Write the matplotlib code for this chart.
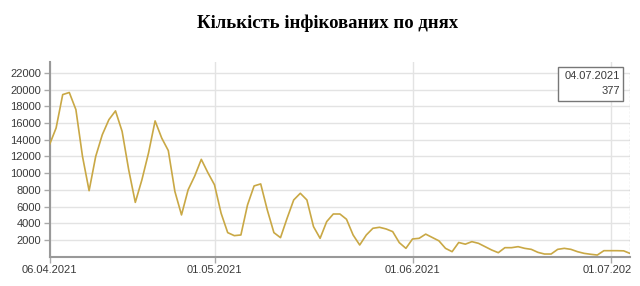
import matplotlib
matplotlib.use("Agg")
import matplotlib.pyplot as plt
from matplotlib.transforms import Bbox, TransformedBbox
import datetime as dt

# ---- data -------------------------------------------------------------
title = "Кількість інфікованих по днях"
start = dt.date(2021, 4, 6)
end = dt.date(2021, 7, 4)
missing = [dt.date(2021, 5, 20)]  # a day with no point on the chart
dates = []
d = start
while d <= end:
    if d not in missing:
        dates.append(d)
    d += dt.timedelta(days=1)

values_apr = [13400, 15400, 19400, 19650, 17600, 12000, 7900, 12000, 14600,
              16400, 17450, 15000, 10400, 6500, 9200, 12400, 16250, 14200,
              12700, 7800, 5000, 8000, 9650, 11650, 10050]
values_may = [8600, 5200, 2880, 2520, 2600, 6190, 8470, 8710, 5590, 2880,
              2280, 4600, 6790, 7590, 6790, 3600, 2200, 4200, 5110, 5110,
              4480, 2600, 1400, 2600, 3400, 3520, 3320, 3000, 1680, 1000]
values_jun = [2120, 2200, 2700, 2300, 1900, 1000, 600, 1700, 1500, 1800,
              1600, 1200, 800, 480, 1080, 1080, 1200, 1000, 880, 520, 320,
              320, 880, 1000, 880, 600, 400, 290, 200, 720]
values_jul = [720, 720, 700, 377]
values = values_apr + values_may + values_jun + values_jul

tick_dates = [dt.date(2021, 4, 6), dt.date(2021, 5, 1),
              dt.date(2021, 6, 1), dt.date(2021, 7, 1)]
y_ticks = list(range(2000, 22001, 2000))

# ---- plot -------------------------------------------------------------
plt.rcParams['font.family'] = ['Liberation Sans', 'DejaVu Sans']
fig = plt.figure(figsize=(6.4, 2.86), dpi=100)
ax = fig.add_axes([49.5 / 640, 1 - 256.7 / 286, (630.3 - 49.5) / 640,
                   (256.7 - 62) / 286])

x = list(range(len(values)))
ax.plot(x, values, color='#C9A845', lw=1.2, zorder=3)

ax.set_xlim(0, len(values) - 1)
ax.set_ylim(0, 23300)

tick_pos = [dates.index(t) for t in tick_dates]
ax.set_xticks(tick_pos)
ax.set_xticklabels([t.strftime('%d.%m.%Y') for t in tick_dates])
ax.set_yticks(y_ticks)
ax.set_yticklabels([str(v) for v in y_ticks])

ax.grid(True, color='#e3e3e3', lw=1.0, zorder=0)
ax.tick_params(axis='both', labelsize=8, labelcolor='#3a3a3a',
               color='#aaaaaa', length=4, width=1, pad=2)
for s in ['top', 'right']:
    ax.spines[s].set_visible(False)
for s in ['left', 'bottom']:
    ax.spines[s].set_color('#999999')
    ax.spines[s].set_linewidth(1.5)

# clip the last x label like the reference
clipbox = TransformedBbox(Bbox([[0, 0], [632 / 640, 1]]), fig.transFigure)
for lab in ax.get_xticklabels():
    lab.set_clip_box(clipbox)
    lab.set_clip_on(True)

# hover marker: dashed line and tooltip for the last point
ax.axvline(len(values) - 1, ymin=0, ymax=(256.7 - 73) / (256.7 - 62),
           color='#555555', lw=0.8, ls=(0, (2, 1.5)), zorder=4)
fig.patches.append(plt.Rectangle((558 / 640, 1 - 100.5 / 286), 65 / 640,
                                 33.5 / 286, transform=fig.transFigure,
                                 facecolor='white', edgecolor='#777777',
                                 lw=1.0, zorder=5))
fig.text(620 / 640, 1 - 76 / 286, dates[-1].strftime('%d.%m.%Y'),
         ha='right', va='center', fontsize=8, color='#3a3a3a', zorder=6)
fig.text(620 / 640, 1 - 91 / 286, str(values[-1]),
         ha='right', va='center', fontsize=8, color='#3a3a3a', zorder=6)

fig.text(328 / 640, 1 - 23 / 286, title, ha='center', va='center',
         fontsize=13.5, fontweight='bold', family=['Liberation Serif'],
         color='black')

fig.savefig('out.png', dpi=100)
